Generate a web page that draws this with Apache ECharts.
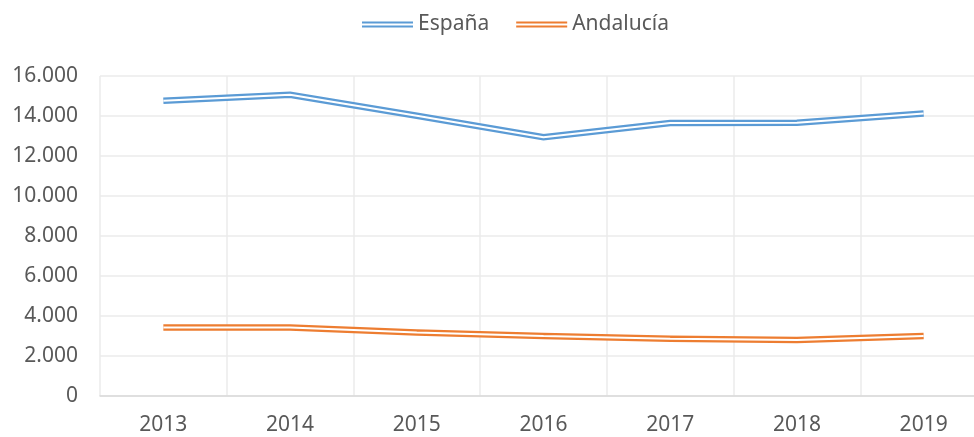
<!DOCTYPE html>
<html>
<head>
<meta charset="utf-8">
<script src="https://cdn.jsdelivr.net/npm/echarts@6/dist/echarts.min.js"></script>
<style>
  html, body { margin: 0; padding: 0; background: #fff; }
  #chart { width: 974px; height: 437px; }
</style>
</head>
<body>
<div id="chart"></div>
<script>
  var years = ['2013', '2014', '2015', '2016', '2017', '2018', '2019'];
  var espana = [14760, 15060, 14010, 12940, 13650, 13660, 14120];
  var andalucia = [3430, 3420, 3180, 3000, 2860, 2800, 3000];

  var blue = '#5b9bd5';
  var orange = '#ed7d31';
  var font = 'Noto Sans';
  var doubleIcon = 'path://M0,0H51V2H0ZM0,4H51V6H0Z';

  function thousands(v) {
    return String(v).replace(/\B(?=(\d{3})+(?!\d))/g, '.');
  }

  // coloured thick line + thin white line on top = double stroke
  function doubleLine(name, data, color) {
    return [
      {
        name: name, type: 'line', data: data, z: 2,
        symbol: 'none', animation: false,
        lineStyle: { color: color, width: 6.5, join: 'miter' },
        itemStyle: { color: color }
      },
      {
        name: name + '_inner', type: 'line', data: data, z: 3,
        symbol: 'none', animation: false, silent: true,
        lineStyle: { color: '#ffffff', width: 2 }
      }
    ];
  }

  var chart = echarts.init(document.getElementById('chart'));
  chart.setOption({
    backgroundColor: '#ffffff',
    legend: {
      top: 9,
      left: 357,
      itemWidth: 51,
      itemHeight: 6,
      itemGap: 27,
      textStyle: { fontFamily: font, fontSize: 21, color: '#595959' },
      data: [
        { name: 'España', icon: doubleIcon },
        { name: 'Andalucía', icon: doubleIcon }
      ]
    },
    // plot area runs past the right edge of the picture (cropped)
    grid: { left: 100, width: 887, top: 76, bottom: 41, containLabel: false, outerBoundsMode: 'none' },
    xAxis: {
      type: 'category',
      data: years,
      boundaryGap: true,
      axisLine: { lineStyle: { color: '#d9d9d9', width: 1.5 } },
      axisTick: { show: false },
      axisLabel: { fontFamily: font, fontSize: 21, color: '#595959', margin: 19 },
      splitLine: { show: true, lineStyle: { color: '#ebebeb', width: 1.5 } }
    },
    yAxis: {
      type: 'value',
      min: 0,
      max: 16000,
      interval: 2000,
      axisLine: { show: false },
      axisTick: { show: false },
      axisLabel: { fontFamily: font, fontSize: 21, color: '#595959', margin: 22, formatter: thousands },
      splitLine: { lineStyle: { color: '#ebebeb', width: 1.5 } }
    },
    series: [].concat(
      doubleLine('España', espana, blue),
      doubleLine('Andalucía', andalucia, orange)
    )
  });
</script>
</body>
</html>
